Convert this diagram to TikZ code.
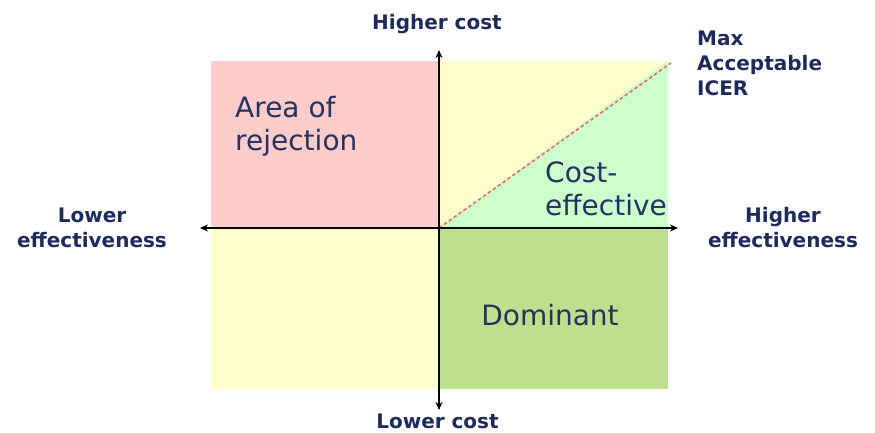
\documentclass[tikz,border=0pt]{standalone}
\usepackage{fontspec}
\setmainfont{DejaVu Sans}
\usetikzlibrary{arrows.meta}
\definecolor{navy}{RGB}{30,42,92}
\definecolor{quadtext}{RGB}{36,50,96}
\definecolor{pinkq}{RGB}{255,204,204}
\definecolor{yellowq}{RGB}{255,255,204}
\definecolor{greenq}{RGB}{204,255,204}
\definecolor{domq}{RGB}{190,224,140}
\definecolor{icer}{RGB}{232,108,100}
\tikzset{
  axislabel/.style={font=\bfseries\fontsize{20}{25}\selectfont, text=navy, inner sep=0pt, align=center},
  quadlabel/.style={font=\fontsize{28}{32.5}\selectfont, text=quadtext, inner sep=0pt, align=left},
  axis/.style={line width=1.5pt, black, -{Stealth[length=8pt,width=7pt]}},
}
\begin{document}
\begin{tikzpicture}[x=1pt,y=-1pt]
\useasboundingbox (0,0) rectangle (875,432);
% quadrants
\fill[pinkq] (211,61) rectangle (439,228);
\fill[yellowq] (439,61) rectangle (668,228);
\fill[yellowq] (211,228) rectangle (439,389);
\fill[domq] (439,228) rectangle (668,389);
\fill[greenq] (439,228) -- (668,61) -- (668,228) -- cycle;
% coordinates
\coordinate (O) at (439,228);
\coordinate (top) at (439,50);
\coordinate (bottom) at (439,410);
\coordinate (left) at (200,228);
\coordinate (right) at (678,228);
\coordinate (icerend) at (671,63);
\draw[icer, line width=1.6pt, dash pattern=on 3.5pt off 2.5pt] (O) -- (icerend);
\draw[axis] (O) -- (top);
\draw[axis] (O) -- (bottom);
\draw[axis] (O) -- (left);
\draw[axis] (O) -- (right);
% labels
\node[axislabel, anchor=base] (hc) at (437,29) {Higher cost};
\node[axislabel, anchor=base] (lc) at (437.5,428) {Lower cost};
\node[axislabel, anchor=base] (le) at (92,247) {Lower\\effectiveness};
\node[axislabel, anchor=base] (he) at (783,247) {Higher\\effectiveness};
\node[axislabel, align=left, anchor=base west] (max) at (697,95) {Max\\Acceptable\\ICER};
\node[quadlabel, anchor=base west] (rej) at (235,150) {Area of\\rejection};
\node[quadlabel, anchor=base west] (ce) at (545,215) {Cost-\\effective};
\node[quadlabel, anchor=base] (dom) at (550,325) {Dominant};
\end{tikzpicture}
\end{document}
